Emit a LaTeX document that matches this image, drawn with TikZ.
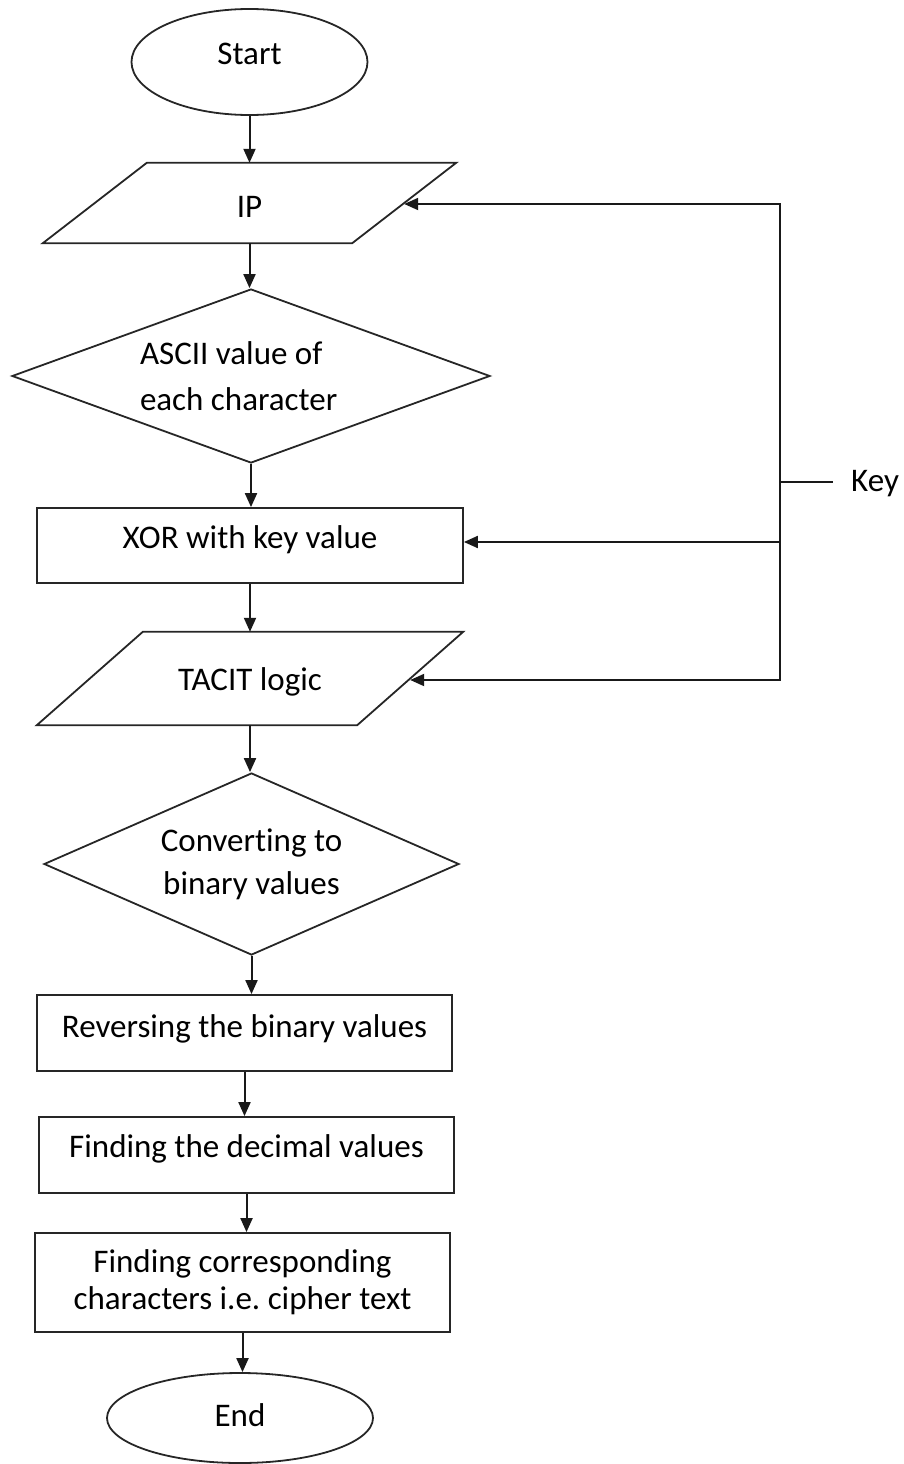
\documentclass[tikz,border=0pt]{standalone}
\usepackage{fontspec}
\setmainfont{Carlito}[Ligatures=NoCommon]
\usetikzlibrary{shapes.geometric,arrows.meta,calc}

\begin{document}
\frenchspacing
\begin{tikzpicture}[x=1pt,y=-1pt,
  every node/.style={font=\fontsize{33}{40}\selectfont},
  shapeline/.style={draw=black!85, line width=1.8pt},
  flow/.style={draw=black!90, line width=2pt, -{Triangle[length=14pt,width=12pt]}},
  plainline/.style={draw=black!90, line width=2pt, line cap=rect},
  term/.style={shapeline, ellipse, inner sep=0pt},
  procbox/.style={shapeline, rectangle, inner sep=0pt, minimum width=415pt, minimum height=76pt},
  iobody/.style={rectangle, inner sep=0pt},
  decide/.style={shapeline, diamond, inner sep=0pt},
]
\useasboundingbox (0,0) rectangle (904,1464);

% main column
\node[term, minimum width=236pt, minimum height=106pt, text depth=16pt] (start) at (249.5,62) {Start};

\node[iobody, minimum width=413pt, minimum height=80pt, text height=29pt] (ip) at (249.5,203) {IP};
\draw[shapeline] ($(ip.north west)+(104,0)$) -- (ip.north east)
  -- ($(ip.south east)+(-104,0)$) -- (ip.south west) -- cycle;
\coordinate (ipR) at ($(ip.east)+(-52,0)$);

\node[decide, shape aspect=2.75, minimum width=478pt, minimum height=174pt,
      text width=222pt, align=flush left, font=\fontsize{33}{46}\selectfont] (ascii) at (251,376)
      {ASCII value of\\each character};

\node[procbox, minimum width=426pt, minimum height=75pt, text depth=16pt] (xor) at (250,545.5) {XOR with key value};

\node[iobody, minimum width=426pt, minimum height=93pt, text height=30pt] (tacit) at (250,678.5) {TACIT logic};
\draw[shapeline] ($(tacit.north west)+(106,0)$) -- (tacit.north east)
  -- ($(tacit.south east)+(-106,0)$) -- (tacit.south west) -- cycle;
\coordinate (tacR) at ($(tacit.east)+(-53,0)$);

\node[decide, shape aspect=2.28, minimum width=415pt, minimum height=182pt,
      align=center, font=\fontsize{33}{43}\selectfont] (conv) at (251.5,864)
      {Converting to\\binary values};
\node[procbox, text depth=13pt] (rev) at (244.5,1033) {Reversing the binary values};
\node[procbox, text depth=17pt] (dec) at (246.5,1155) {Finding the decimal values};
\node[procbox, minimum height=99pt, align=center, font=\fontsize{33}{37}\selectfont] (cipher) at (242.5,1282.5)
      {Finding corresponding\\characters i.e. cipher text};
\node[term, minimum width=266pt, minimum height=90pt, text depth=6pt] (end) at (240,1418) {End};

% key input
\node[anchor=west, inner sep=0pt] (key) at (851,484) {Key};
\coordinate (kt) at (780,204);
\coordinate (km) at (780,482);
\coordinate (kx) at (780,542);
\coordinate (kb) at (780,680);
\coordinate (kstub) at ($(key.west)+(-19,0)$);

% flow arrows
\draw[flow] (start.south) -- (start.south |- ip.north);
\draw[flow] (ip.south) -- (ip.south |- ascii.north);
\draw[flow] (ascii.south) -- (ascii.south |- xor.north);
\draw[flow] (xor.south) -- (xor.south |- tacit.north);
\draw[flow] (tacit.south) -- (tacit.south |- conv.north);
\draw[flow] (conv.south) -- (conv.south |- rev.north);
\draw[flow] (rev.south) -- (rev.south |- dec.north);
\draw[flow] (dec.south) -- (dec.south |- cipher.north);
\draw[flow] (cipher.south) -- (cipher.south |- end.north);

% key distribution
\draw[plainline] (kt) -- (kb);
\draw[plainline] (km) -- (km -| kstub);
\draw[flow] (kt) -- (kt -| ipR);
\draw[flow] (kx) -- (kx -| xor.east);
\draw[flow] (kb) -- (kb -| tacR);
\end{tikzpicture}
\end{document}
